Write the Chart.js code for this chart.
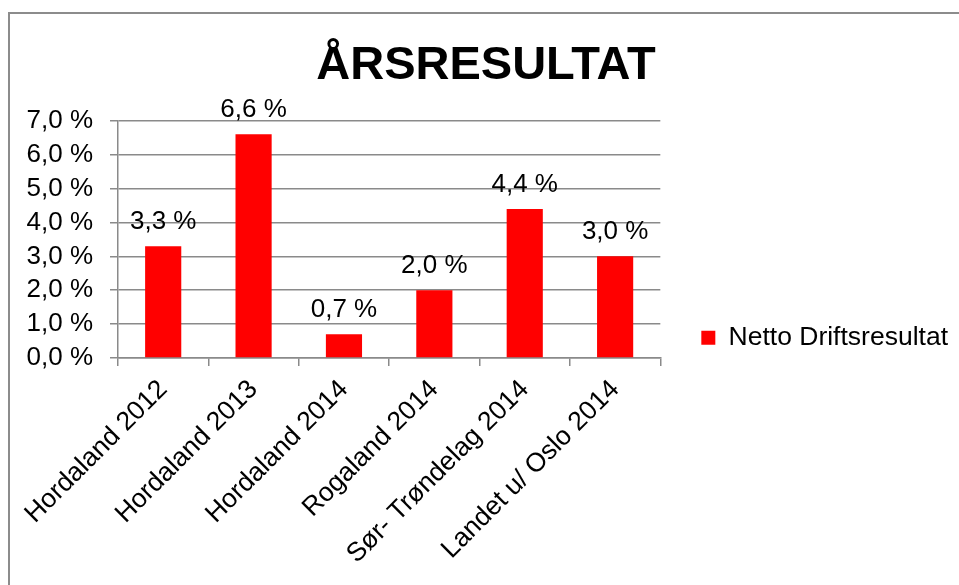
<html lang="no"><head>
    <meta charset="utf-8">
    <title>Årsresultat</title>
    <style>
* {
  padding: 0;
  margin: 0;
  box-sizing: border-box;
}
body {
  background: #ffffff;
  width: 959px;
  height: 585px;
  overflow: hidden;
}
.wrapper {
  position: relative;
  width: 959px;
  height: 585px;
}
    </style>
  </head>
  <body>
    <div class="wrapper">
      <canvas id="chart"></canvas>
    </div>
    <script src="https://cdn.jsdelivr.net/npm/chart.js@4.4.1/dist/chart.umd.min.js"></script>
    <script>
//Chart data
const categories = [
  "Hordaland 2012",
  "Hordaland 2013",
  "Hordaland 2014",
  "Rogaland 2014",
  "Sør- Trøndelag 2014",
  "Landet u/ Oslo 2014",
];
const seriesName = "Netto Driftsresultat";
const values = [3.3, 6.6, 0.7, 2.0, 4.4, 3.0];
const chartTitle = "ÅRSRESULTAT";

const FONT = "'Liberation Sans', Arial, sans-serif";
const GRID = "#8a8a8a";

//format 3.3 -> "3,3 %"
const pct = (v) => v.toFixed(1).replace(".", ",") + " %";

//grey frame round the chart (left and top edge only show in the picture)
const framePlugin = {
  id: "frame",
  beforeDraw(chart) {
    const ctx = chart.ctx;
    ctx.save();
    ctx.strokeStyle = "#8c8c8c";
    ctx.lineWidth = 2;
    ctx.beginPath();
    ctx.moveTo(9, chart.height);
    ctx.lineTo(9, 13);
    ctx.lineTo(chart.width, 13);
    ctx.stroke();
    ctx.restore();
  },
};

//value labels above each bar
const valueLabels = {
  id: "valueLabels",
  afterDatasetsDraw(chart) {
    const ctx = chart.ctx;
    const meta = chart.getDatasetMeta(0);
    ctx.save();
    ctx.font = "26px " + FONT;
    ctx.fillStyle = "#000000";
    ctx.textAlign = "center";
    ctx.textBaseline = "alphabetic";
    meta.data.forEach((bar, i) => {
      ctx.fillText(pct(values[i]), bar.x, bar.y - 17);
    });
    ctx.restore();
  },
};

new Chart(document.getElementById("chart"), {
  type: "bar",
  plugins: [framePlugin, valueLabels],
  data: {
    labels: categories,
    datasets: [
      {
        label: seriesName,
        data: values,
        backgroundColor: "#ff0000",
        borderWidth: 0,
        categoryPercentage: 1,
        barPercentage: 0.4,
      },
    ],
  },
  options: {
    responsive: true,
    maintainAspectRatio: false,
    animation: false,
    layout: { padding: { left: 14, right: 1, top: 0, bottom: 0 } },
    plugins: {
      tooltip: { enabled: false },
      title: {
        display: true,
        text: chartTitle,
        color: "#000000",
        font: { family: FONT, size: 47, weight: "bold", lineHeight: 1.2 },
        padding: { top: 38, bottom: 26.4 },
      },
      legend: {
        position: "right",
        align: "start",
        maxWidth: 400,
        //empty legend title, only used to push the entry down
        title: {
          display: true,
          text: "",
          font: { size: 12, lineHeight: 1.2 },
          padding: { top: 269, bottom: 0 },
        },
        labels: {
          color: "#000000",
          font: { family: FONT, size: 26.5 },
          boxWidth: 14,
          boxHeight: 14,
          padding: 41,
        },
      },
    },
    scales: {
      x: {
        grid: {
          offset: true,
          drawOnChartArea: false,
          drawTicks: true,
          tickLength: 8,
          color: GRID,
          lineWidth: 1.5,
        },
        border: { color: GRID, width: 1.5 },
        ticks: {
          color: "#000000",
          font: { family: FONT, size: 26.5 },
          padding: 8,
          minRotation: 45,
          maxRotation: 45,
          autoSkip: false,
        },
        afterFit(scale) {
          scale.height = 227;
        },
      },
      y: {
        min: 0,
        max: 7,
        grid: {
          color: GRID,
          lineWidth: 1.5,
          drawTicks: true,
          tickLength: 8,
        },
        border: { color: GRID, width: 1.5 },
        ticks: {
          stepSize: 1,
          autoSkip: false,
          color: "#000000",
          font: { family: FONT, size: 26 },
          padding: 17,
          callback: (v) => pct(v),
        },
        afterFit(scale) {
          scale.width = 104;
        },
      },
    },
  },
});
    </script>
</body></html>
